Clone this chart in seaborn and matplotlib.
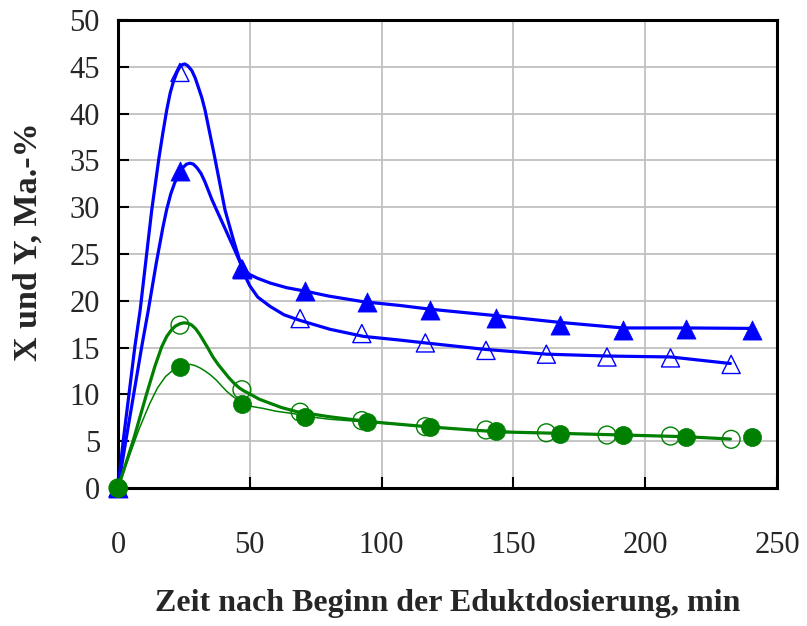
import numpy as np
import pandas as pd
import matplotlib
matplotlib.use("Agg")
import matplotlib.pyplot as plt
import seaborn as sns

# ---------------- data ----------------
# measured points
t_filled = [0, 23.5, 47, 71, 94.5, 118.5, 143.5, 167.5, 191.5, 215.5, 240.5]
t_open = [0, 23.5, 47, 69.1, 92.5, 116.6, 139.6, 162.5, 185.5, 209.6, 232.6]

tri_filled = [0, 33.9, 23.4, 21.0, 19.9, 19.0, 18.2, 17.4, 16.9, 17.0, 16.9]
tri_open = [0, 44.4, 23.4, 18.1, 16.5, 15.5, 14.7, 14.3, 14.0, 13.9, 13.2]
circ_open = [0, 17.4, 10.5, 8.1, 7.2, 6.55, 6.2, 5.9, 5.66, 5.55, 5.2]
circ_filled = [0, 12.9, 8.95, 7.6, 7.0, 6.55, 6.1, 5.77, 5.66, 5.48, 5.48]

# model curves
cx_tri_open = [0, 2.0, 6.4, 8.4, 12.8, 15.5, 17.0, 18.5, 19.8, 21.0, 22.5, 23.5,
               24.5, 25.4, 26.5, 28.0, 29.3, 30.5, 31.8, 33.0, 36.5, 40.6, 44.0,
               47.6, 50.0, 53.0, 57.7, 63.0, 69.1, 80.5, 93.1, 107, 116.6, 139.6,
               162.5, 185.5, 209.6, 232.3]
cy_tri_open = [0, 5.1, 15.1, 19.0, 29.7, 35.2, 37.9, 40.4, 42.2, 43.4, 44.5, 45.0,
               45.25, 45.3, 45.1, 44.6, 43.8, 42.8, 41.7, 40.4, 35.6, 29.7, 26.3,
               23.0, 21.6, 20.4, 19.4, 18.5, 17.9, 16.95, 16.2, 15.8, 15.5, 14.8,
               14.3, 14.1, 14.0, 13.3]

cx_tri_filled = [0, 3.0, 9.0, 11.5, 14.5, 17.0, 18.5, 20.0, 21.5, 23.0, 24.5, 26.0,
                 27.3, 28.6, 30.0, 31.5, 33.0, 35.5, 37.4, 40.0, 44.0, 47.6, 50.0,
                 53.0, 57.7, 64.0, 71.6, 80.0, 93.1, 107, 118.5, 143.8, 167.4,
                 191.5, 215.5, 240.5]
cy_tri_filled = [0, 5.1, 15.1, 19.0, 24.0, 27.8, 29.8, 31.4, 32.6, 33.5, 34.2, 34.6,
                 34.7, 34.6, 34.2, 33.6, 32.7, 30.9, 29.7, 28.1, 25.6, 23.3, 22.8,
                 22.4, 21.9, 21.4, 21.0, 20.5, 19.9, 19.5, 19.1, 18.4, 17.7, 17.1,
                 17.1, 17.05]

cx_circ_open = [0, 5.8, 10.9, 14.0, 16.6, 18.5, 20.3, 21.8, 23.5, 25.0, 26.5, 28.0,
                29.5, 31.0, 32.5, 34.0, 36.0, 38.0, 40.0, 42.0, 44.0, 46.0, 47.6,
                50.0, 53.5, 57.7, 62.0, 67.8, 80.5, 95.7, 117.2, 143.8, 167.4,
                191.5, 215.5, 232.3]
cy_circ_open = [0, 5.1, 10.1, 13.0, 15.1, 16.2, 16.9, 17.3, 17.55, 17.65, 17.6,
                17.4, 17.0, 16.4, 15.7, 15.0, 14.0, 13.2, 12.5, 11.8, 11.2, 10.7,
                10.4, 10.05, 9.5, 9.05, 8.6, 8.15, 7.6, 7.08, 6.55, 6.0, 5.84, 5.66,
                5.48, 5.23]

cx_circ_filled = [0, 4.0, 8.0, 12.0, 15.0, 18.0, 20.5, 22.9, 24.5, 26.0, 27.5, 29.0,
                  31.0, 33.0, 35.0, 37.4, 39.0, 41.0, 43.0, 45.0, 47.0, 49.0, 51.0,
                  55.1, 60.0, 66.5, 71.6, 80.0, 94.4, 118.5, 143.5, 167.4, 191.4,
                  215.5, 232.3]
cy_circ_filled = [0, 3.2, 6.3, 9.0, 10.7, 11.9, 12.5, 12.9, 13.1, 13.2, 13.2, 13.1,
                  12.85, 12.5, 12.1, 11.5, 11.0, 10.4, 9.9, 9.5, 9.1, 8.85, 8.7,
                  8.5, 8.2, 7.95, 7.65, 7.35, 7.05, 6.5, 6.08, 5.82, 5.66, 5.48, 5.25]

x_ticks = [0, 50, 100, 150, 200, 250]
y_ticks = [0, 5, 10, 15, 20, 25, 30, 35, 40, 45, 50]

BLUE = "#0000FF"
GREEN = "#008000"

# ---------------- plotting ----------------
sns.set_style("white")
plt.rcParams["font.family"] = ["Liberation Serif", "DejaVu Serif"]

fig = plt.figure(figsize=(8.07, 6.26), dpi=100)
ax = fig.add_axes([118 / 807, 1 - 488 / 626, (777 - 118) / 807, (488 - 20) / 626])

def curve(x, y, color, lw):
    df = pd.DataFrame({"x": x, "y": y})
    sns.lineplot(data=df, x="x", y="y", ax=ax, color=color, linewidth=lw,
                 estimator=None, sort=False, zorder=3)

curve(cx_tri_open, cy_tri_open, BLUE, 2.3)
curve(cx_tri_filled, cy_tri_filled, BLUE, 2.3)
curve(cx_circ_open, cy_circ_open, GREEN, 2.3)
curve(cx_circ_filled, cy_circ_filled, GREEN, 1.1)
for ln in ax.get_lines():
    ln.set_solid_joinstyle("round")
    ln.set_solid_capstyle("round")

def points(x, y, marker, color, filled, s):
    df = pd.DataFrame({"x": x, "y": y})
    if filled:
        sns.scatterplot(data=df, x="x", y="y", ax=ax, marker=marker, s=s,
                        color=color, edgecolor=color, linewidth=0.5,
                        clip_on=False, zorder=4)
    else:
        sns.scatterplot(data=df, x="x", y="y", ax=ax, marker=marker, s=s,
                        facecolor="none", edgecolor=color, linewidth=1.0,
                        clip_on=False, zorder=4)

points(t_open, tri_open, "^", BLUE, False, 170)
points(t_filled, tri_filled, "^", BLUE, True, 190)
points(t_open, circ_open, "o", GREEN, False, 165)
points(t_filled, circ_filled, "o", GREEN, True, 170)

ax.set_xlim(0, 250)
ax.set_ylim(0, 50)
ax.set_xticks(x_ticks)
ax.set_yticks(y_ticks)
ax.set_xticklabels([str(v) for v in x_ticks])
ax.set_yticklabels([str(v) for v in y_ticks])

ax.grid(True, color="#c0c0c0", linewidth=1.3)
ax.set_axisbelow(True)
for sp in ax.spines.values():
    sp.set_visible(True)
    sp.set_color("black")
    sp.set_linewidth(2.2)

ax.tick_params(axis="both", which="both", direction="in", length=8, width=1.5,
               color="black", labelsize=22, left=True, bottom=True,
               right=False, top=False)
ax.tick_params(axis="y", pad=13)
ax.tick_params(axis="x", pad=31)

ax.set_xlabel("Zeit nach Beginn der Eduktdosierung, min", fontsize=23,
              fontweight="bold", va="center")
ax.set_ylabel("X und Y, Ma.-%", fontsize=24.5, fontweight="bold", va="center")
ax.xaxis.set_label_coords((448 - 118) / 659, (488 - 604) / 468)
ax.yaxis.set_label_coords((28 - 118) / 659, (488 - 242) / 468)

fig.savefig("out.png", dpi=100)
